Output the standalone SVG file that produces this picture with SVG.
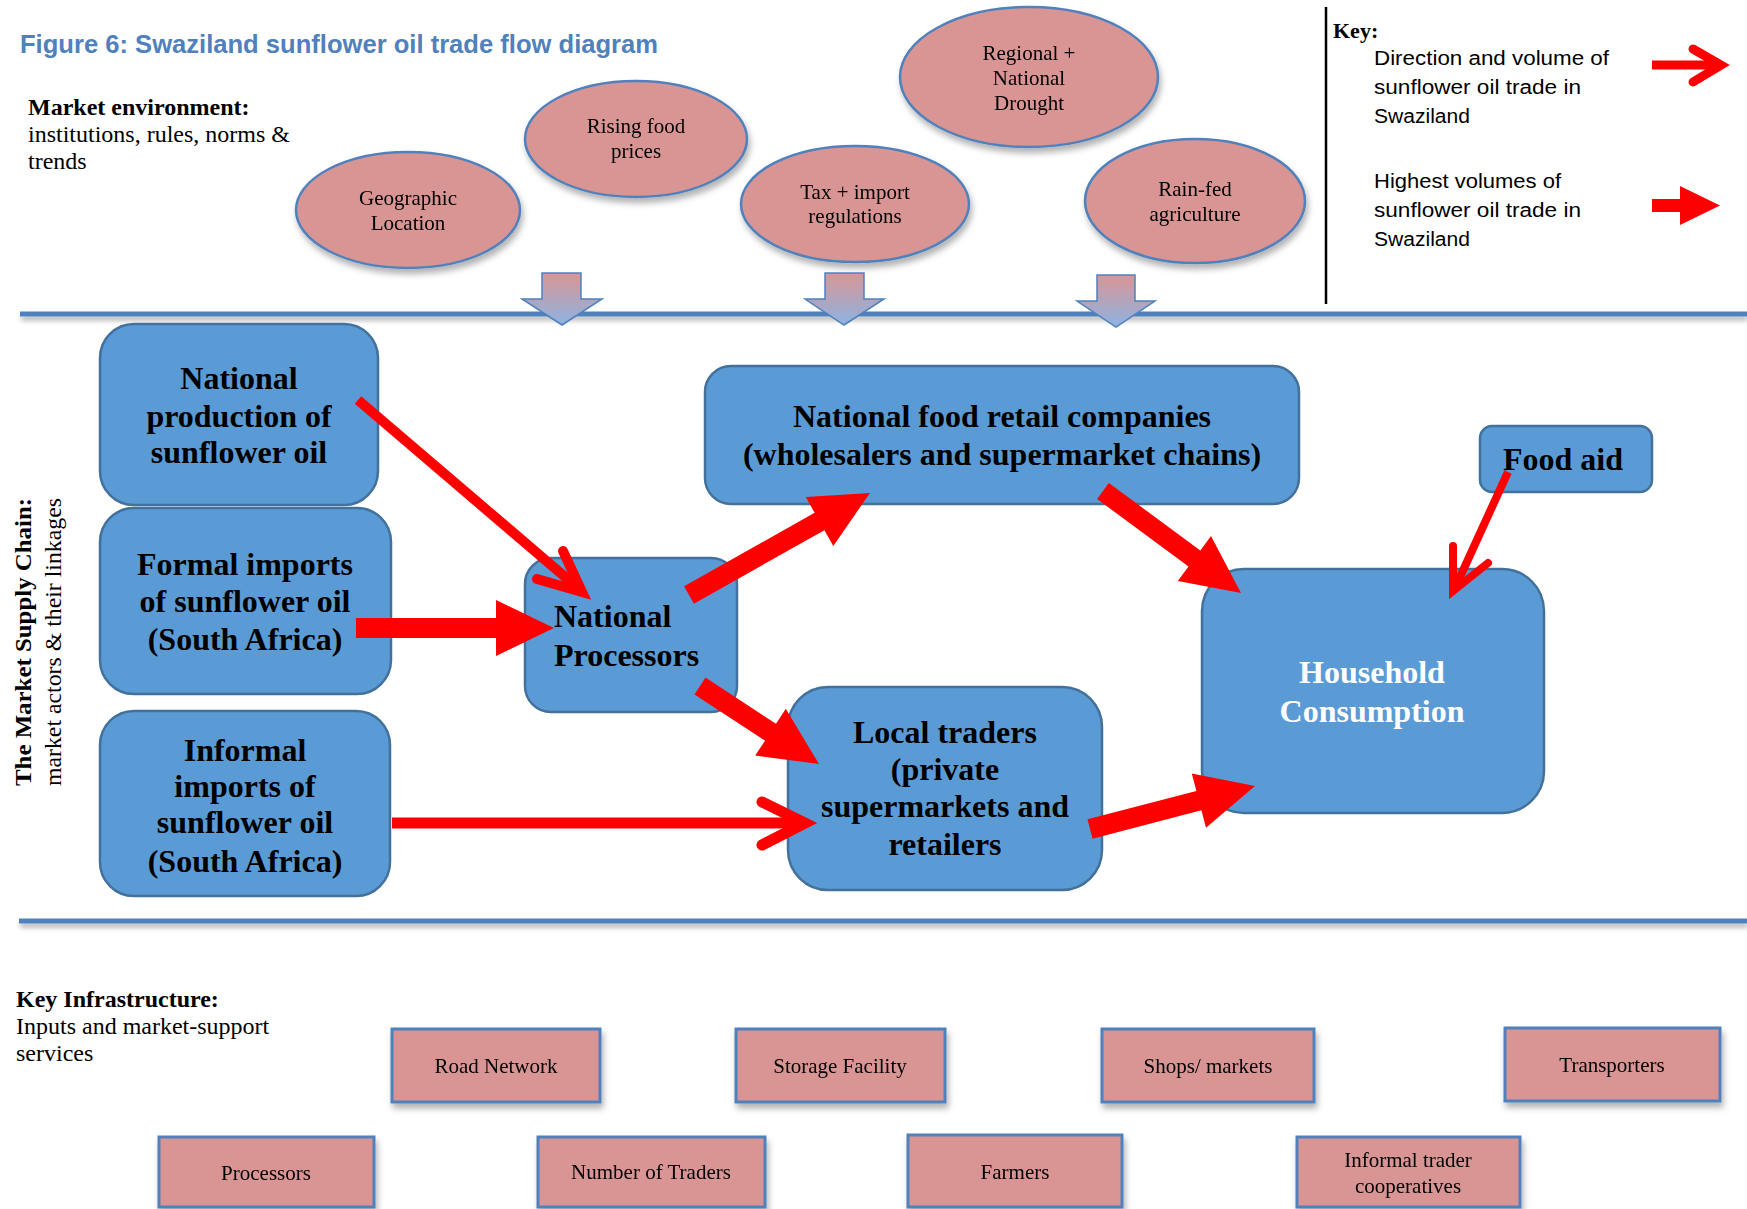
<svg xmlns="http://www.w3.org/2000/svg" width="1747" height="1209" viewBox="0 0 1747 1209">
<defs>
<style>
.serif{font-family:"Liberation Serif","Times New Roman",serif;fill:#000}
.sans{font-family:"Liberation Sans",Arial,sans-serif}
.ell{fill:#D99594;stroke:#4F81BD;stroke-width:2.5}
.ellt{font-family:"Liberation Serif","Times New Roman",serif;font-size:21px;text-anchor:middle;fill:#000}
.box{fill:#5B9BD5;stroke:#41719C;stroke-width:2.5}
.boxt{font-family:"Liberation Serif","Times New Roman",serif;font-size:32px;font-weight:bold;text-anchor:middle;fill:#000}
.boxl{font-family:"Liberation Serif","Times New Roman",serif;font-size:32px;font-weight:bold;text-anchor:start;fill:#000}
.white{fill:#fff}
.inf{fill:#D99594;stroke:#4F81BD;stroke-width:3}
.inft{font-family:"Liberation Serif","Times New Roman",serif;font-size:21px;text-anchor:middle;fill:#000}
.blk{fill:#FF0000;stroke:none}
.thin{fill:none;stroke:#FF0000;stroke-linejoin:miter}
.chev{fill:none;stroke:#FF0000;stroke-linecap:round;stroke-linejoin:miter;stroke-miterlimit:10}
.down{fill:url(#dg);stroke:#4F81BD;stroke-width:1.5}
.hline{fill:#4F81BD}
</style>
<linearGradient id="dg" x1="0" y1="0" x2="0" y2="1">
<stop offset="0" stop-color="#D99594"/>
<stop offset="1" stop-color="#8DB3E2"/>
</linearGradient>
<filter id="sh" x="-10%" y="-10%" width="130%" height="140%">
<feDropShadow dx="2" dy="5" stdDeviation="3" flood-color="#000" flood-opacity="0.3"/>
</filter>
<filter id="lsh" filterUnits="userSpaceOnUse" x="0" y="0" width="1747" height="1209">
<feDropShadow dx="1" dy="4" stdDeviation="2.5" flood-color="#000" flood-opacity="0.3"/>
</filter>
</defs>
<rect width="1747" height="1209" fill="#fff"/>

<text x="20" y="53" class="sans" font-size="26" font-weight="bold" fill="#4F81BD" textLength="638" lengthAdjust="spacingAndGlyphs">Figure 6: Swaziland sunflower oil trade flow diagram</text>

<text x="28" y="115" class="serif" font-size="24" font-weight="bold">Market environment:</text>
<text x="28" y="142" class="serif" font-size="24">institutions, rules, norms &amp;</text>
<text x="28" y="169" class="serif" font-size="24">trends</text>

<g id="env-geographic" filter="url(#sh)">
<ellipse class="ell" cx="408" cy="210" rx="112" ry="58"/>
<text class="ellt" x="408" y="205">Geographic</text>
<text class="ellt" x="408" y="230">Location</text>
</g>
<g id="env-rising" filter="url(#sh)">
<ellipse class="ell" cx="636" cy="139" rx="111" ry="58"/>
<text class="ellt" x="636" y="133">Rising food</text>
<text class="ellt" x="636" y="158">prices</text>
</g>
<g id="env-tax" filter="url(#sh)">
<ellipse class="ell" cx="855" cy="204" rx="114" ry="58"/>
<text class="ellt" x="855" y="199">Tax + import</text>
<text class="ellt" x="855" y="223">regulations</text>
</g>
<g id="env-drought" filter="url(#sh)">
<ellipse class="ell" cx="1029" cy="77" rx="129" ry="70"/>
<text class="ellt" x="1029" y="60">Regional +</text>
<text class="ellt" x="1029" y="85">National</text>
<text class="ellt" x="1029" y="110">Drought</text>
</g>
<g id="env-rainfed" filter="url(#sh)">
<ellipse class="ell" cx="1195" cy="201" rx="110" ry="62"/>
<text class="ellt" x="1195" y="196">Rain-fed</text>
<text class="ellt" x="1195" y="221">agriculture</text>
</g>

<line x1="1326" y1="7" x2="1326" y2="304" stroke="#000" stroke-width="2.5"/>
<g id="key">
<text x="1333" y="38" class="serif" font-size="22" font-weight="bold">Key:</text>
<text x="1374" y="65" class="sans" font-size="20" fill="#000" textLength="235" lengthAdjust="spacingAndGlyphs">Direction and volume of</text>
<text x="1374" y="94" class="sans" font-size="20" fill="#000" textLength="207" lengthAdjust="spacingAndGlyphs">sunflower oil trade in</text>
<text x="1374" y="123" class="sans" font-size="20" fill="#000" textLength="96" lengthAdjust="spacingAndGlyphs">Swaziland</text>
<text x="1374" y="188" class="sans" font-size="20" fill="#000" textLength="187" lengthAdjust="spacingAndGlyphs">Highest volumes of</text>
<text x="1374" y="217" class="sans" font-size="20" fill="#000" textLength="207" lengthAdjust="spacingAndGlyphs">sunflower oil trade in</text>
<text x="1374" y="246" class="sans" font-size="20" fill="#000" textLength="96" lengthAdjust="spacingAndGlyphs">Swaziland</text>
<line class="thin" x1="1652" y1="65" x2="1718" y2="65" stroke-width="9"/>
<polyline class="chev" points="1693,49 1721,65 1693,82" stroke-width="9"/>
<polygon class="blk" points="1652,199 1680,199 1680,186 1720,205.5 1680,225 1680,212 1652,212"/>
</g>

<g id="dividers" filter="url(#lsh)">
<rect class="hline" x="20" y="311.5" width="1727" height="5"/>
<rect class="hline" x="19" y="918.5" width="1728" height="5"/>
</g>

<g id="down-arrows">
<polygon class="down" points="542,273 581,273 581,299 602,299 562,325 522,299 542,299"/>
<polygon class="down" points="825,273 864,273 864,299 884,299 844,325 805,299 825,299"/>
<polygon class="down" points="1097,275 1135,275 1135,301 1155,301 1116,327 1077,301 1097,301"/>
</g>

<text transform="translate(31,786) rotate(-90)" class="serif" font-size="23" font-weight="bold" textLength="288" lengthAdjust="spacingAndGlyphs">The Market  Supply Chain:</text>
<text transform="translate(61,786) rotate(-90)" class="serif" font-size="24" textLength="288" lengthAdjust="spacingAndGlyphs">market actors &amp; their linkages</text>

<g id="node-national-production">
<rect class="box" x="100" y="324" width="278" height="181" rx="34"/>
<text class="boxt" x="239" y="389">National</text>
<text class="boxt" x="239" y="427">production of</text>
<text class="boxt" x="239" y="463">sunflower oil</text>
</g>
<g id="node-formal-imports">
<rect class="box" x="100" y="508" width="291" height="186" rx="34"/>
<text class="boxt" x="245" y="575">Formal imports</text>
<text class="boxt" x="245" y="612">of sunflower oil</text>
<text class="boxt" x="245" y="650">(South Africa)</text>
</g>
<g id="node-informal-imports">
<rect class="box" x="100" y="711" width="290" height="185" rx="34"/>
<text class="boxt" x="245" y="761">Informal</text>
<text class="boxt" x="245" y="797">imports of</text>
<text class="boxt" x="245" y="833">sunflower oil</text>
<text class="boxt" x="245" y="872">(South Africa)</text>
</g>
<g id="node-processors">
<rect class="box" x="525" y="558" width="212" height="154" rx="26"/>
<text class="boxl" x="554" y="627">National</text>
<text class="boxl" x="554" y="666">Processors</text>
</g>
<g id="node-retail">
<rect class="box" x="705" y="366" width="594" height="138" rx="26"/>
<text class="boxt" x="1002" y="427">National food retail companies</text>
<text class="boxt" x="1002" y="465">(wholesalers and supermarket chains)</text>
</g>
<g id="node-food-aid">
<rect class="box" x="1480" y="426" width="172" height="66" rx="12"/>
<text class="boxt" x="1563" y="470">Food aid</text>
</g>
<g id="node-household">
<rect class="box" x="1202" y="569" width="342" height="244" rx="42"/>
<text class="boxt white" x="1372" y="683">Household</text>
<text class="boxt white" x="1372" y="722">Consumption</text>
</g>
<g id="node-local-traders">
<rect class="box" x="788" y="687" width="314" height="203" rx="40"/>
<text class="boxt" x="945" y="743">Local traders</text>
<text class="boxt" x="945" y="780">(private</text>
<text class="boxt" x="945" y="817">supermarkets and</text>
<text class="boxt" x="945" y="855">retailers</text>
</g>

<g id="connectors">
<line class="thin" x1="358" y1="400" x2="578" y2="588" stroke-width="10"/>
<polyline class="chev" points="563,551 582,592 537,579" stroke-width="10"/>
<polygon class="blk" points="356,618 496,618 496,600 554,628 496,656 496,638 356,638"/>
<polygon class="blk" points="693.9,603.7 824.4,530.2 833.3,545.9 870,493 805.8,497.1 814.6,512.8 684.1,586.3"/>
<polygon class="blk" points="1097.1,499 1188.5,566.5 1177.8,581 1241,593 1211,536 1200.3,550.5 1108.9,483"/>
<polygon class="blk" points="694.5,694.4 765,740.6 755.2,755.6 819,764 785.8,708.8 776,723.8 705.5,677.6"/>
<line class="thin" x1="392" y1="823" x2="802" y2="823" stroke-width="11"/>
<polyline class="chev" points="762,802 805,823 762,845" stroke-width="11"/>
<polygon class="blk" points="1092.5,838.7 1201.4,810.3 1206,827.7 1255,786 1191.8,773.5 1196.4,790.9 1087.5,819.3"/>
<line class="thin" x1="1508" y1="472" x2="1455" y2="588" stroke-width="8"/>
<polyline class="chev" points="1453,546 1453,591 1488,563" stroke-width="8"/>
</g>

<text x="16" y="1007" class="serif" font-size="24" font-weight="bold">Key Infrastructure:</text>
<text x="16" y="1034" class="serif" font-size="24">Inputs and market-support</text>
<text x="16" y="1061" class="serif" font-size="24">services</text>

<g id="infra-road" filter="url(#sh)">
<rect class="inf" x="392" y="1029" width="208" height="73"/>
<text class="inft" x="496" y="1073">Road Network</text>
</g>
<g id="infra-storage" filter="url(#sh)">
<rect class="inf" x="736" y="1029" width="209" height="73"/>
<text class="inft" x="840" y="1073">Storage Facility</text>
</g>
<g id="infra-shops" filter="url(#sh)">
<rect class="inf" x="1102" y="1029" width="212" height="73"/>
<text class="inft" x="1208" y="1073">Shops/ markets</text>
</g>
<g id="infra-transporters" filter="url(#sh)">
<rect class="inf" x="1505" y="1028" width="215" height="73"/>
<text class="inft" x="1612" y="1072">Transporters</text>
</g>
<g id="infra-processors" filter="url(#sh)">
<rect class="inf" x="159" y="1137" width="215" height="70"/>
<text class="inft" x="266" y="1180">Processors</text>
</g>
<g id="infra-traders" filter="url(#sh)">
<rect class="inf" x="538" y="1137" width="227" height="70"/>
<text class="inft" x="651" y="1179">Number of Traders</text>
</g>
<g id="infra-farmers" filter="url(#sh)">
<rect class="inf" x="908" y="1135" width="214" height="72"/>
<text class="inft" x="1015" y="1179">Farmers</text>
</g>
<g id="infra-cooperatives" filter="url(#sh)">
<rect class="inf" x="1297" y="1137" width="223" height="70"/>
<text class="inft" x="1408" y="1167">Informal trader</text>
<text class="inft" x="1408" y="1193">cooperatives</text>
</g>
</svg>
